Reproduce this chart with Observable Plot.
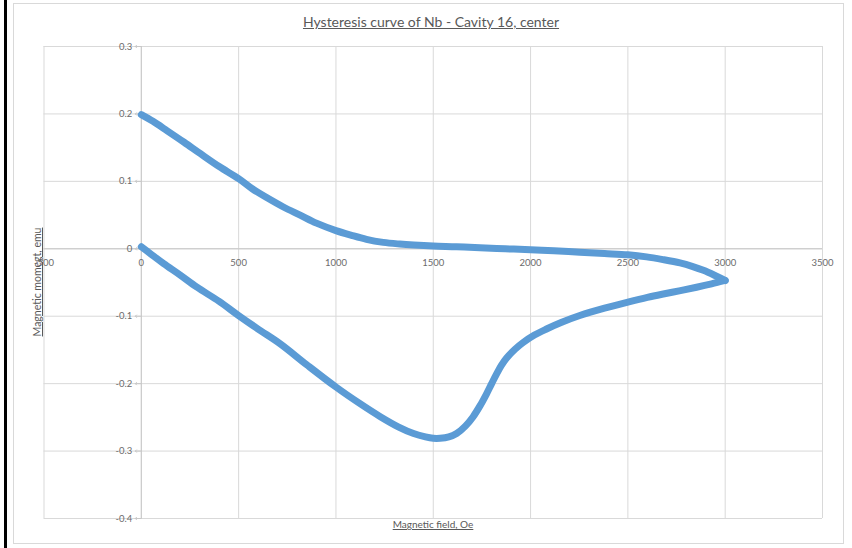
<!DOCTYPE html>
<html>
<head>
<meta charset="utf-8">
<script src="https://cdn.jsdelivr.net/npm/d3@7"></script>
<script src="https://cdn.jsdelivr.net/npm/@observablehq/plot@0.6"></script>
<style>
  html, body { margin: 0; padding: 0; background: #fff; }
  body { width: 852px; height: 548px; position: relative; overflow: hidden; font-family: Lato, "Open Sans", sans-serif; }
  #bar { position: absolute; left: 4px; top: 0; width: 3px; height: 548px; background: #000; }
  #frame { position: absolute; left: 13px; top: 3px; width: 831px; height: 541px; border: 1px solid #d9d9d9; box-sizing: border-box; }
  #chart { position: absolute; left: 0; top: 0; }
  .lbl { position: absolute; color: #595959; text-decoration: underline; white-space: nowrap; }
  #title { left: 0; width: 862px; top: 13px; text-align: center; font-size: 14px; }
  #xtitle { left: 0; width: 866px; top: 518px; text-align: center; font-size: 10px; }
  #ytitle { left: 37px; top: 282px; font-size: 10.5px; transform: translate(-50%, -50%) rotate(-90deg); }
</style>
</head>
<body>
<div id="bar"></div>
<div id="frame"></div>
<div id="chart"></div>
<div class="lbl" id="title">Hysteresis curve of Nb - Cavity 16, center</div>
<div class="lbl" id="xtitle">Magnetic field, Oe</div>
<div class="lbl" id="ytitle">Magnetic momegt, emu</div>
<script>
// Lower (increasing-field) branch
const lowerField = [0, 50, 115, 200, 286, 400, 500, 600, 714, 850, 1000, 1120, 1228, 1320, 1399, 1460, 1500, 1535, 1580, 1620, 1665, 1705, 1740, 1774, 1800, 1825, 1850, 1877, 1920, 1962, 2020, 2082, 2160, 2253, 2380, 2500, 2600, 2682, 2770, 2853, 2930, 3000];
const lowerMoment = [0.003, -0.008, -0.022, -0.039, -0.057, -0.078, -0.099, -0.119, -0.141, -0.172, -0.205, -0.229, -0.249, -0.264, -0.274, -0.279, -0.281, -0.281, -0.279, -0.274, -0.263, -0.249, -0.233, -0.215, -0.200, -0.186, -0.173, -0.162, -0.149, -0.139, -0.128, -0.119, -0.109, -0.099, -0.088, -0.079, -0.072, -0.067, -0.062, -0.057, -0.052, -0.047];
// Upper (decreasing-field) branch
const upperField = [3000, 2950, 2888, 2830, 2768, 2680, 2596, 2500, 2380, 2253, 2120, 2000, 1870, 1740, 1620, 1500, 1400, 1328, 1243, 1157, 1080, 1000, 900, 816, 730, 644, 570, 500, 400, 304, 220, 133, 60, 0];
const upperMoment = [-0.047, -0.040, -0.032, -0.026, -0.021, -0.016, -0.012, -0.009, -0.007, -0.005, -0.003, -0.0015, 0.000, 0.0015, 0.003, 0.004, 0.0055, 0.007, 0.0095, 0.014, 0.020, 0.027, 0.038, 0.050, 0.062, 0.076, 0.089, 0.104, 0.122, 0.141, 0.158, 0.175, 0.189, 0.199];

const xTicks = [-500, 0, 500, 1000, 1500, 2000, 2500, 3000, 3500];
const yTicks = [-0.4, -0.3, -0.2, -0.1, 0, 0.1, 0.2, 0.3];
const xTickLabels = ["-500", "0", "500", "1000", "1500", "2000", "2500", "3000", "3500"];
const yTickLabels = ["-0.4", "-0.3", "-0.2", "-0.1", "0", "0.1", "0.2", "0.3"];

const lower = lowerField.map((f, i) => ({field: f, moment: lowerMoment[i]}));
const upper = upperField.map((f, i) => ({field: f, moment: upperMoment[i]}));
const xt = xTicks.map((v, i) => ({v, label: xTickLabels[i]}));
const yt = yTicks.map((v, i) => ({v, label: yTickLabels[i]}));

const color = "#5B9BD5";
const chart = Plot.plot({
  width: 852,
  height: 548,
  marginLeft: 43.5,
  marginRight: 30,
  marginTop: 46,
  marginBottom: 30,
  style: {background: "transparent", overflow: "visible", fontFamily: "Lato, 'Open Sans', sans-serif"},
  x: {domain: [-500, 3500], axis: null},
  y: {domain: [-0.4, 0.3], axis: null},
  marks: [
    Plot.ruleX(xTicks, {stroke: "#d9d9d9", strokeWidth: 1}),
    Plot.ruleY(yTicks, {stroke: "#d9d9d9", strokeWidth: 1}),
    Plot.ruleX([0], {stroke: "#c8c8c8", strokeWidth: 1}),
    Plot.ruleY([0], {stroke: "#c8c8c8", strokeWidth: 1}),
    Plot.vector(yTicks, {x: 0, y: d => d, length: 6, rotate: -90, anchor: "start", stroke: "#c8c8c8", strokeWidth: 1}),
    Plot.text(yt, {x: 0, y: "v", text: "label", dx: -9, textAnchor: "end", fill: "#6b6b6b", fontSize: 9.5}),
    Plot.text(xt, {x: "v", y: 0, text: "label", dy: 14, textAnchor: "middle", fill: "#6b6b6b", fontSize: 9.5}),
    Plot.line(lower, {x: "field", y: "moment", stroke: color, strokeWidth: 7, curve: "catmull-rom"}),
    Plot.line(upper, {x: "field", y: "moment", stroke: color, strokeWidth: 7, curve: "catmull-rom"})
  ]
});
document.getElementById("chart").appendChild(chart);
</script>
</body>
</html>
